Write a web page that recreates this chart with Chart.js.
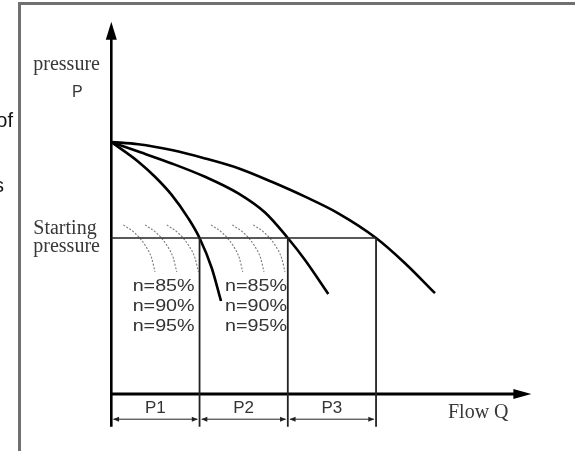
<!DOCTYPE html>
<html><head><meta charset="utf-8">
<script src="https://cdn.jsdelivr.net/npm/chart.js@4"></script>
<style>
html,body{margin:0;padding:0;background:#fff;width:575px;height:451px;overflow:hidden;}
#wrap{position:relative;width:575px;height:451px;}
#frame{position:absolute;left:18px;top:2px;width:620px;height:520px;border-top:3px solid #707070;border-left:3px solid #707070;}
canvas{position:absolute;left:0;top:0;}
</style></head>
<body><div id="wrap"><div id="frame"></div><canvas id="c" width="575" height="451"></canvas></div>
<script>
// ---- data (flow Q in section units, pressure P in arbitrary units) ----
const flowQ_curve1 = [0, 0.306, 0.495, 0.684, 0.873, 1.0, 1.138, 1.243];
const pressure_curve1 = [10, 9.22, 8.62, 7.90, 6.97, 6.19, 5.00, 3.69];
const flowQ_curve2 = [0, 0.306, 0.684, 1.062, 1.439, 1.742, 2.0, 2.195, 2.459];
const pressure_curve2 = [10, 9.62, 9.15, 8.62, 7.96, 7.20, 6.19, 5.32, 3.97];
const flowQ_curve3 = [0, 0.306, 0.684, 1.062, 1.439, 1.818, 2.195, 2.572, 3.0, 3.328, 3.668];
const pressure_curve3 = [10, 9.91, 9.68, 9.35, 8.96, 8.42, 7.83, 7.17, 6.19, 5.19, 4.00];

const startingPressure = 6.19;
const sectionBounds = [0, 1, 2, 3];
const sectionLabels = ['P1', 'P2', 'P3'];
const sectionLabelQ = [0.5, 1.5, 2.5];

const arcQ1 = [0.136, 0.269, 0.382, 0.458, 0.495];
const arcQ2 = [0.382, 0.515, 0.628, 0.704, 0.741];
const arcQ3 = [0.628, 0.761, 0.874, 0.950, 0.987];
const arcQ4 = [1.130, 1.263, 1.376, 1.452, 1.489];
const arcQ5 = [1.371, 1.504, 1.617, 1.693, 1.730];
const arcQ6 = [1.609, 1.742, 1.855, 1.931, 1.968];
const arcP = [6.71, 6.38, 5.91, 5.38, 4.85];

const effLabels = ['n=85%', 'n=90%', 'n=95%'];
const effGroupQ = [0.242, 1.288];
const effLabelP = [4.29, 3.49, 2.70];

const axisQmax = 4.76;
const axisPmax = 14.77;
const axisPbottom = -1.30;
const dimP = -1.0;
const sectionLabelP = -0.55;

// ---- helpers ----
const pts = (qs, ps) => qs.map((q, i) => ({x: q, y: ps[i]}));
const line = (data, extra) => Object.assign({
  data, showLine: true, pointRadius: 0, borderColor: '#000', borderWidth: 2.6,
  fill: false, clip: false, tension: 0
}, extra || {});

const datasets = [];
// starting-pressure line
datasets.push(line(pts([0, sectionBounds[3]], [startingPressure, startingPressure]), {borderColor: '#222', borderWidth: 1.7}));
// verticals
for (let i = 1; i < sectionBounds.length; i++) {
  datasets.push(line(pts([sectionBounds[i], sectionBounds[i]], [startingPressure, axisPbottom]), {borderColor: '#222', borderWidth: 1.8}));
}
// dimension lines
for (let i = 0; i < 3; i++) {
  datasets.push(line(pts([sectionBounds[i] + 0.025, sectionBounds[i + 1] - 0.025], [dimP, dimP]), {borderColor: '#222', borderWidth: 1}));
}
// efficiency arcs
[arcQ1, arcQ2, arcQ3, arcQ4, arcQ5, arcQ6].forEach(a => {
  datasets.push(line(pts(a, arcP), {borderColor: '#7a7a7a', borderWidth: 1.1, borderDash: [2, 1.6], cubicInterpolationMode: 'monotone'}));
});
// pump curves
[[flowQ_curve1, pressure_curve1], [flowQ_curve2, pressure_curve2], [flowQ_curve3, pressure_curve3]].forEach(c => {
  datasets.push(line(pts(c[0], c[1]), {borderWidth: 2.6, cubicInterpolationMode: 'monotone'}));
});
// axes
datasets.push(line(pts([0, 0], [axisPbottom, axisPmax - 0.5]), {borderWidth: 2.6}));
datasets.push(line(pts([0, axisQmax - 0.15], [0, 0]), {borderWidth: 2.8}));

function tri(ctx, tx, ty, dx, dy, len, half) {
  const bx = tx - dx * len, by = ty - dy * len;
  ctx.beginPath();
  ctx.moveTo(tx, ty);
  ctx.lineTo(bx - dy * half, by + dx * half);
  ctx.lineTo(bx + dy * half, by - dx * half);
  ctx.closePath();
  ctx.fill();
}

const annot = {
  id: 'annot',
  afterDatasetsDraw(chart) {
    const {ctx, scales: {x, y}, chartArea: ca} = chart;
    ctx.save();
    ctx.fillStyle = '#000';
    // axis arrowheads
    tri(ctx, x.getPixelForValue(0), y.getPixelForValue(axisPmax), 0, -1, 18, 5.5);
    tri(ctx, x.getPixelForValue(axisQmax), y.getPixelForValue(0), 1, 0, 18, 5);
    // dimension arrowheads
    ctx.fillStyle = '#222';
    for (let i = 0; i < 3; i++) {
      const yy = y.getPixelForValue(dimP);
      tri(ctx, x.getPixelForValue(sectionBounds[i] + 0.02), yy, -1, 0, 6, 2.5);
      tri(ctx, x.getPixelForValue(sectionBounds[i + 1] - 0.02), yy, 1, 0, 6, 2.5);
    }
    // section labels
    ctx.fillStyle = '#333';
    ctx.font = '17px "Liberation Sans", Arial, sans-serif';
    ctx.textAlign = 'center';
    ctx.textBaseline = 'middle';
    sectionLabels.forEach((s, i) => ctx.fillText(s, x.getPixelForValue(sectionLabelQ[i]), y.getPixelForValue(sectionLabelP)));
    // efficiency labels
    ctx.textAlign = 'left';
    effGroupQ.forEach(gq => {
      effLabels.forEach((s, i) => {
        ctx.save();
        ctx.translate(x.getPixelForValue(gq), y.getPixelForValue(effLabelP[i]));
        ctx.scale(1.16, 1);
        ctx.fillText(s, 0, 0);
        ctx.restore();
      });
    });
    // axis titles
    ctx.fillStyle = '#383838';
    ctx.textBaseline = 'alphabetic';
    ctx.font = '20px "Liberation Serif", "Times New Roman", serif';
    ctx.fillText('pressure', ca.left - 78, 70);
    ctx.fillText('Starting', ca.left - 78, 234);
    ctx.fillText('pressure', ca.left - 78, 252);
    ctx.fillText('Flow Q', 448, 418);
    ctx.font = '16px "Liberation Sans", Arial, sans-serif';
    ctx.textAlign = 'center';
    ctx.fillText('P', ca.left - 34, 97);
    // cut-off surrounding text
    ctx.fillStyle = '#111';
    ctx.font = '20px "Liberation Sans", Arial, sans-serif';
    ctx.textAlign = 'right';
    ctx.fillText('of', 13, 127);
    ctx.fillText('s', 4, 192);
    ctx.restore();
  }
};

new Chart(document.getElementById('c'), {
  type: 'scatter',
  data: {datasets},
  options: {
    responsive: false,
    animation: false,
    events: [],
    layout: {padding: {left: 111.3, right: 40.1, top: 16, bottom: 19.2}},
    plugins: {legend: {display: false}, tooltip: {enabled: false}, title: {display: false}},
    scales: {
      x: {type: 'linear', display: false, min: 0, max: 4.8},
      y: {type: 'linear', display: false, min: -1.5, max: 15}
    }
  },
  plugins: [annot]
});
</script>
</body></html>
